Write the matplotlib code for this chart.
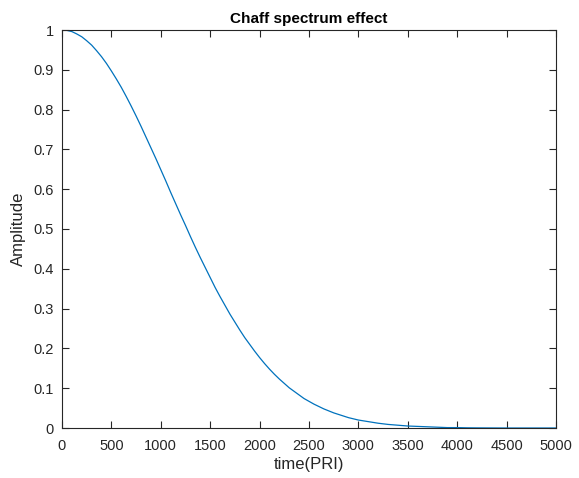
import matplotlib
matplotlib.use("Agg")
import matplotlib.pyplot as plt

# Values (time in PRI, amplitude)
time_pri = list(range(0, 3000, 50)) + list(range(3000, 5001, 100))
amplitude = [1.000, 0.999, 0.996, 0.990, 0.983, 0.973, 0.962, 0.948, 0.933, 0.916,
             0.897, 0.877, 0.856, 0.833, 0.809, 0.784, 0.758, 0.731, 0.704, 0.677,
             0.649, 0.621, 0.592, 0.564, 0.536, 0.509, 0.481, 0.454, 0.428, 0.403,
             0.378, 0.353, 0.330, 0.308, 0.286, 0.266, 0.246, 0.227, 0.210, 0.193,
             0.177, 0.162, 0.148, 0.135, 0.123, 0.112, 0.101, 0.092, 0.083, 0.074,
             0.067, 0.060, 0.054, 0.048, 0.043, 0.038, 0.034, 0.030, 0.026, 0.023,
             0.020, 0.016, 0.012, 0.009, 0.007, 0.005, 0.004, 0.003, 0.002, 0.001,
             0.001, 0.0005, 0.0003, 0.0002, 0.0001, 0.0, 0.0, 0.0, 0.0, 0.0, 0.0]
x_ticks = list(range(0, 5001, 500))
y_ticks = [0, 0.1, 0.2, 0.3, 0.4, 0.5, 0.6, 0.7, 0.8, 0.9, 1]
y_tick_labels = ["0", "0.1", "0.2", "0.3", "0.4", "0.5", "0.6", "0.7", "0.8", "0.9", "1"]

plt.rcParams['font.family'] = ['Liberation Sans', 'DejaVu Sans']
fig = plt.figure(figsize=(5.79, 4.78), dpi=100)
ax = fig.add_axes([62/579, 50/478, 494/579, 398/478])
ax.plot(time_pri, amplitude, color='#0072BD', linewidth=0.9)
ax.set_xlim(0, 5000)
ax.set_ylim(0, 1)
ax.set_xticks(x_ticks)
ax.set_yticks(y_ticks)
ax.set_yticklabels(y_tick_labels)
dark = '#262626'
for s in ax.spines.values():
    s.set_color(dark)
    s.set_linewidth(0.8)
ax.tick_params(direction='in', top=True, right=True, length=5, width=0.8,
               colors=dark, labelsize=10.5)
ax.tick_params(axis='x', pad=8)
ax.tick_params(axis='y', pad=6)
ax.set_xlabel('time(PRI)', fontsize=12, color=dark, labelpad=3)
ax.set_ylabel('Amplitude', fontsize=12, color=dark, labelpad=5)
ax.set_title('Chaff spectrum effect', fontsize=11, fontweight='bold', color='black', pad=5)
fig.savefig('out.png', dpi=100)
